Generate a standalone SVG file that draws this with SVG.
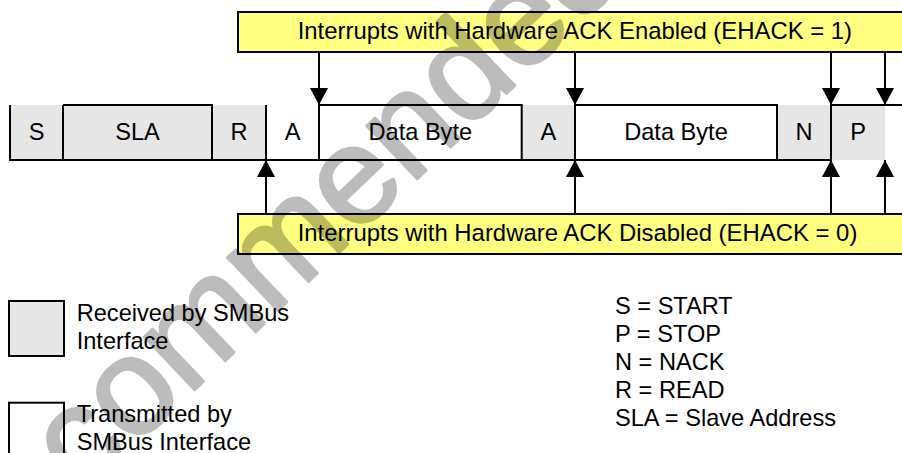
<svg xmlns="http://www.w3.org/2000/svg" width="902" height="453" viewBox="0 0 902 453">
<defs>
<style>
.t{font-family:"Liberation Sans",Arial,Helvetica,sans-serif;font-size:23.6px;fill:#000}
.c{text-anchor:middle}
.big{font-size:23.9px}
.rx{fill:#e6e6e6}
.ln{stroke:#000;stroke-width:2;fill:none}
.yl{fill:#ffff80;stroke:#000;stroke-width:2}
.ar{stroke:#000;stroke-width:2;fill:none;marker-end:url(#ah)}
.wm{font-family:"Liberation Sans",Arial,sans-serif;font-size:138px;fill:#000;stroke:#000;stroke-width:3;stroke-linejoin:round}
</style>
<marker id="ah" markerUnits="userSpaceOnUse" viewBox="0 0 17 18" refX="17" refY="9" markerWidth="17" markerHeight="18" orient="auto">
<path d="M0,0 L17,9 L0,18 z" fill="#000"/>
</marker>
</defs>
<rect width="902" height="453" fill="#fff"/>

<g id="label-enabled">
<rect class="yl" x="238" y="12" width="680" height="40"/>
<text class="t big" x="297.7" y="39">Interrupts with Hardware ACK Enabled (EHACK = 1)</text>
</g>
<g id="label-disabled">
<rect class="yl" x="238" y="214" width="680" height="40"/>
<text class="t big" x="297.7" y="240.5">Interrupts with Hardware ACK Disabled (EHACK = 0)</text>
</g>

<g id="cell-S"><rect class="rx" x="10" y="105" width="53" height="55"/><text class="t c" x="36.5" y="139.5">S</text></g>
<g id="cell-SLA"><rect class="rx" x="63" y="105" width="149" height="55"/><text class="t c" x="137.5" y="139.5">SLA</text></g>
<g id="cell-R"><rect class="rx" x="212" y="105" width="54" height="55"/><text class="t c" x="239" y="139.5">R</text></g>
<g id="cell-A1"><text class="t c" x="292.5" y="139.5">A</text></g>
<g id="cell-Data1"><text class="t c" x="420.3" y="139.5">Data Byte</text></g>
<g id="cell-A2"><rect class="rx" x="521.7" y="105" width="53.3" height="55"/><text class="t c" x="548.3" y="139.5">A</text></g>
<g id="cell-Data2"><text class="t c" x="676" y="139.5">Data Byte</text></g>
<g id="cell-N"><rect class="rx" x="777" y="105" width="54" height="55"/><text class="t c" x="804" y="139.5">N</text></g>
<g id="cell-P"><rect class="rx" x="831" y="105" width="54" height="55"/><text class="t c" x="858" y="139.5">P</text></g>

<g id="frame">
<path class="ln" d="M10,105 V160 H831 M63,105 V160 M63,105 H212 V160 M266,105 V160 M319,160 V105 H521.7 V160 M575,160 V105 H777 V160 M831,160 V105 H903"/>
</g>

<g id="connectors">
<line class="ar" x1="319" y1="52" x2="319" y2="105"/>
<line class="ar" x1="575" y1="52" x2="575" y2="105"/>
<line class="ar" x1="831" y1="52" x2="831" y2="105"/>
<line class="ar" x1="885" y1="52" x2="885" y2="105"/>
<line class="ar" x1="266" y1="214" x2="266" y2="160"/>
<line class="ar" x1="575" y1="214" x2="575" y2="160"/>
<line class="ar" x1="831" y1="214" x2="831" y2="160"/>
<line class="ar" x1="885" y1="214" x2="885" y2="160"/>
</g>

<g id="legend-received">
<rect class="rx" x="9" y="301" width="55" height="55" stroke="#000" stroke-width="2"/>
<text class="t" x="76.7" y="321">Received by SMBus</text>
<text class="t" x="76.7" y="349">Interface</text>
</g>
<g id="legend-transmitted">
<rect x="9" y="402.7" width="55" height="70" fill="#fff" stroke="#000" stroke-width="2"/>
<text class="t" x="76.7" y="421.7">Transmitted by</text>
<text class="t" x="76.7" y="449.5">SMBus Interface</text>
</g>
<g id="legend-abbrev">
<text class="t" x="615" y="313.5">S = START</text>
<text class="t" x="615" y="341.5">P = STOP</text>
<text class="t" x="615" y="369.5">N = NACK</text>
<text class="t" x="615" y="397.5">R = READ</text>
<text class="t" x="615" y="425.5">SLA = Slave Address</text>
</g>

<g opacity="0.26">
<text class="wm" transform="translate(-46,618) rotate(-43.5)">Recommended</text>
</g>
</svg>
